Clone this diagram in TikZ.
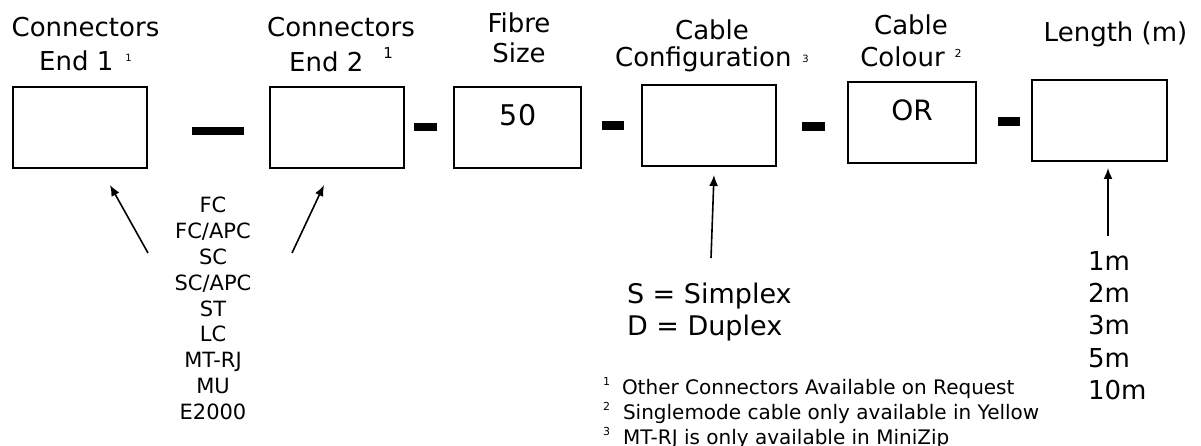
\documentclass[tikz,border=0pt]{standalone}
\usepackage{fontspec}
\setmainfont{DejaVu Sans}
\usetikzlibrary{arrows.meta}
\newcommand{\fsz}[2]{\fontsize{#1}{#2}\selectfont}
\newcommand{\supr}[3]{\raisebox{#1}{\fontsize{#2}{#2}\selectfont #3}}
\begin{document}
\begin{tikzpicture}[x=1pt,y=-1pt,
  every node/.style={inner sep=0pt,outer sep=0pt},
  box/.style={draw,line width=1.6pt,minimum height=81pt},
  dashbar/.style={fill=black},
  arr/.style={line width=1.6pt,-{Latex[length=11pt,width=9pt]}}]
\useasboundingbox (0,0) rectangle (1201,446);

% boxes
\node[box,minimum width=134pt] (b1) at (80,127.5) {};
\node[box,minimum width=134pt] (b2) at (337,127.5) {};
\node[box,minimum width=127pt] (b3) at (517.5,127.5) {};
\node[box,minimum width=134pt] (b4) at (709,125.5) {};
\node[box,minimum width=128pt] (b5) at (912,122.5) {};
\node[box,minimum width=135pt] (b6) at (1099.5,120.5) {};

% separators
\fill[dashbar] (192,127) rectangle (244,135);
\fill[dashbar] (414,123) rectangle (437,131);
\fill[dashbar] (602,121) rectangle (624,130);
\fill[dashbar] (802,122) rectangle (825,131);
\fill[dashbar] (998,117) rectangle (1020,126);

% headings
\node[anchor=base] (h1) at (85.5,37) {\fsz{26}{34}\begin{tabular}[t]{@{}c@{}}Connectors\\End 1\hspace{12pt}\supr{9pt}{10}{1}\end{tabular}};
\node[anchor=base] (h2) at (341,37) {\fsz{26}{34}\begin{tabular}[t]{@{}c@{}}Connectors\\End 2\hspace{20pt}\supr{13pt}{15}{1}\end{tabular}};
\node[anchor=base] (h3) at (519,33) {\fsz{26}{30}\begin{tabular}[t]{@{}c@{}}Fibre\\Size\end{tabular}};
\node[anchor=base] (h4) at (712,40) {\fsz{26}{30}\begin{tabular}[t]{@{}c@{}}Cable\\[-3pt]Configuration\hspace{11pt}\supr{4pt}{10}{3}\end{tabular}};
\node[anchor=base] (h5) at (911,35) {\fsz{26}{32}\begin{tabular}[t]{@{}c@{}}Cable\\Colour\hspace{10pt}\supr{9pt}{11}{2}\end{tabular}};
\node[anchor=base] (h6) at (1115.5,42) {\fsz{26}{32}Length (m)};

% box contents
\node[anchor=base] (t3) at (518,126) {\fsz{28.5}{28.5}50};
\node[anchor=base] (t5) at (912,121) {\fsz{28}{28}OR};

% option lists
\node[anchor=base] (conn) at (213,213) {\fsz{21}{25.8}\begin{tabular}[t]{@{}c@{}}FC\\FC/APC\\SC\\SC/APC\\ST\\LC\\MT-RJ\\MU\\E2000\end{tabular}};
\node[anchor=base west] (cfg) at (627,303) {\fsz{27}{32}\begin{tabular}[t]{@{}l@{}}S = Simplex\\D = Duplex\end{tabular}};
\node[anchor=base west] (len) at (1088,270) {\fsz{26}{32.4}\begin{tabular}[t]{@{}l@{}}1m\\2m\\3m\\5m\\10m\end{tabular}};

% footnotes
\node[anchor=base west] (notes) at (603,394) {\fsz{20}{25}\begin{tabular}[t]{@{}l@{}}\supr{9pt}{11}{1}\hspace{12pt}Other Connectors Available on Request\\\supr{9pt}{11}{2}\hspace{13pt}Singlemode cable only available in Yellow\\\supr{9pt}{11}{3}\hspace{13pt}MT-RJ is only available in MiniZip\end{tabular}};

% arrows
\coordinate (a1s) at (148,253); \coordinate (a1e) at (110,185);
\coordinate (a2s) at (292,253); \coordinate (a2e) at (324,185);
\coordinate (a3s) at (711,258); \coordinate (a3e) at (714,175);
\coordinate (a4s) at (1108,236); \coordinate (a4e) at (1108,168);
\draw[arr] (a1s) -- (a1e);
\draw[arr] (a2s) -- (a2e);
\draw[arr] (a3s) -- (a3e);
\draw[arr] (a4s) -- (a4e);
\end{tikzpicture}
\end{document}
